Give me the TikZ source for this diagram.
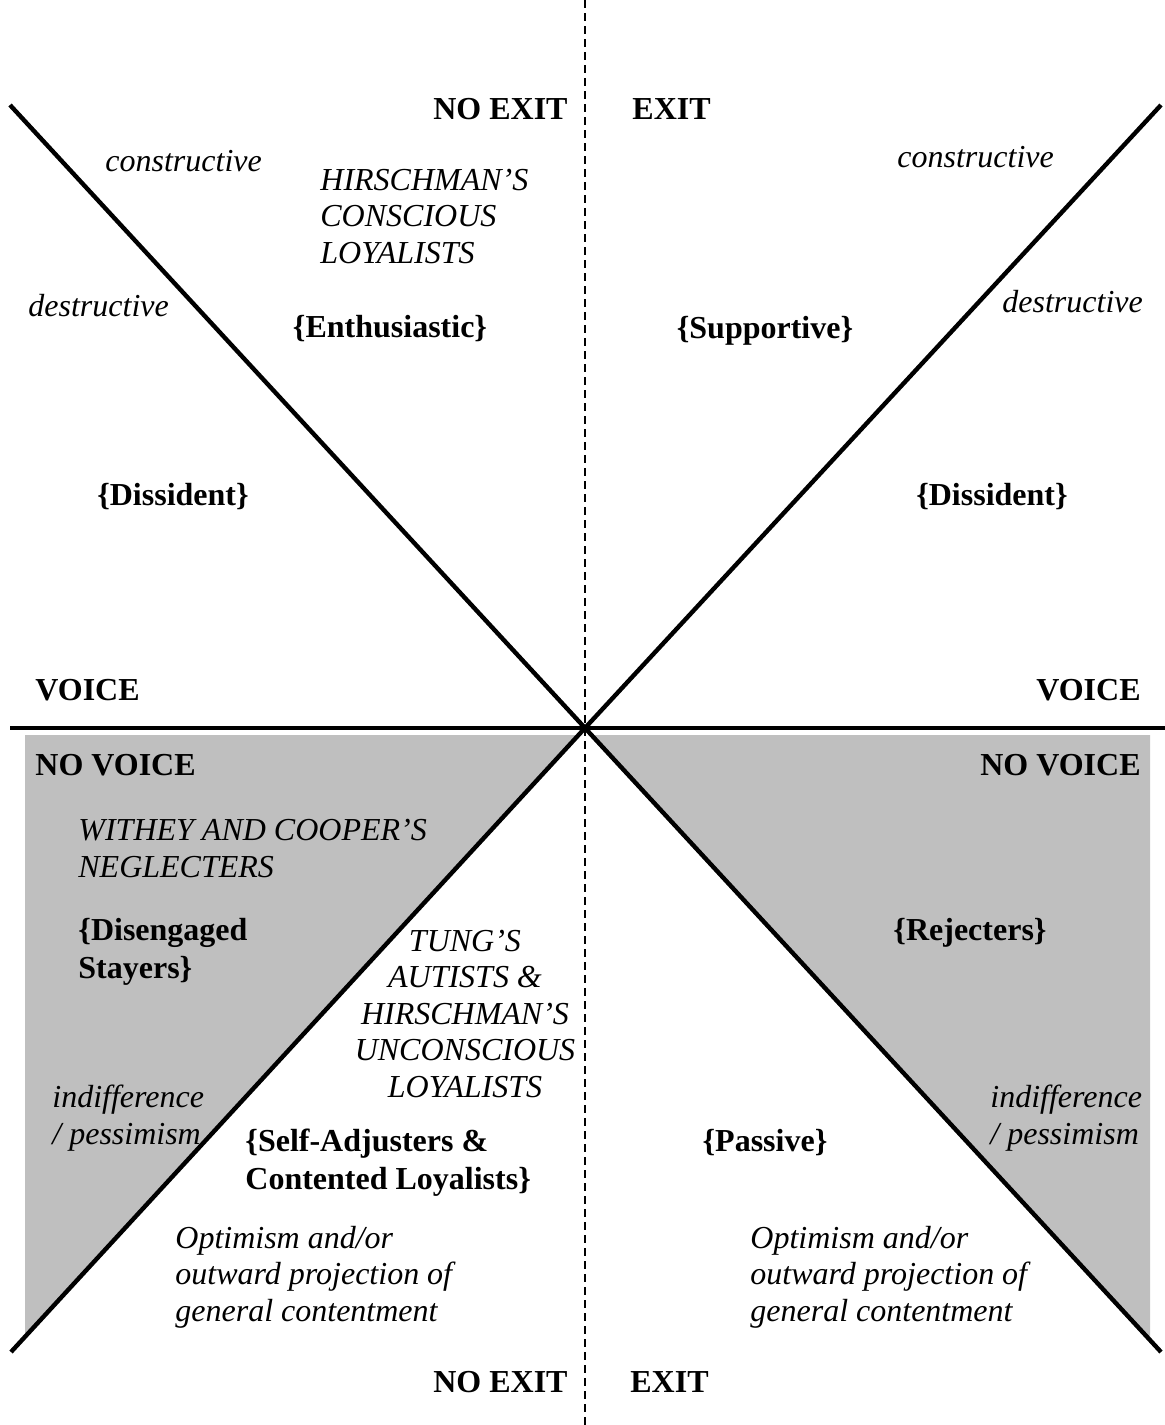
\documentclass[tikz,border=0pt]{standalone}
\usepackage{fontspec}
\setmainfont{Liberation Serif}
\begin{document}
\begin{tikzpicture}[x=0.5pt,y=-0.5pt,
  txt/.style={inner sep=0pt,font=\fontsize{16}{18.25}\selectfont},
  bt/.style={txt,font=\fontsize{16}{18.9}\selectfont\bfseries},
  it/.style={txt,font=\fontsize{16}{18.25}\selectfont\itshape},
  axis/.style={line width=2pt},
  diag/.style={line width=2.2pt},
  divider/.style={line width=1pt,dash pattern=on 4pt off 2.5pt},
  shade/.style={fill=black!25,draw=none}]
\useasboundingbox (0,0) rectangle (1165,1425);
% coordinates
\coordinate (C) at (585,728);
\coordinate (TL) at (10,105);
\coordinate (TR) at (1161,105);
\coordinate (BL) at (11,1352);
\coordinate (BR) at (1161,1352);
\coordinate (HL) at (10,728);
\coordinate (HR) at (1165,728);
\coordinate (VT) at (585,0);
\coordinate (VB) at (585,1425);
% shaded regions
\fill[shade] (25,735) -- (578,735) -- (25,1336) -- cycle;
\fill[shade] (592,735) -- (1150,735) -- (1150,1340) -- cycle;
% lines
\draw[divider] (VT) -- (VB);
\draw[axis] (HL) -- (HR);
\draw[diag] (TL) -- (C) -- (BR);
\draw[diag] (TR) -- (C) -- (BL);
% labels (multi-line nodes: base = last line's baseline)
\node[bt,anchor=base east] (noexitT) at (568,119) {NO EXIT};
\node[bt,anchor=base west] (exitT) at (632,119) {EXIT};
\node[bt,anchor=base east] (noexitB) at (568,1392) {NO EXIT};
\node[bt,anchor=base west] (exitB) at (630,1392) {EXIT};
\node[it,anchor=base west] (conL) at (105,171) {constructive};
\node[it,anchor=base west,align=left] (hirsch) at (320,263) {HIRSCHMAN’S\\CONSCIOUS\\LOYALISTS};
\node[it,anchor=base west] (desL) at (28,316) {destructive};
\node[bt,anchor=base] (enth) at (390,337) {\{Enthusiastic\}};
\node[bt,anchor=base] (dissL) at (173,505) {\{Dissident\}};
\node[bt,anchor=base west] (voiceL) at (35,700) {VOICE};
\node[it,anchor=base west] (conR) at (897,167) {constructive};
\node[it,anchor=base west] (desR) at (1002,312) {destructive};
\node[bt,anchor=base] (supp) at (765,338) {\{Supportive\}};
\node[bt,anchor=base] (dissR) at (992,505) {\{Dissident\}};
\node[bt,anchor=base east] (voiceR) at (1141,700) {VOICE};
\node[bt,anchor=base west] (novoiceL) at (35,775) {NO VOICE};
\node[bt,anchor=base east] (novoiceR) at (1141,775) {NO VOICE};
\node[it,anchor=base west,align=left] (withey) at (78,877) {WITHEY AND COOPER’S\\NEGLECTERS};
\node[bt,anchor=base west,align=left] (diseng) at (78,978) {\{Disengaged\\Stayers\}};
\node[it,anchor=base,align=center] (tung) at (465,1097) {TUNG’S\\AUTISTS \&\\HIRSCHMAN’S\\UNCONSCIOUS\\LOYALISTS};
\node[bt,anchor=base] (rej) at (970,940) {\{Rejecters\}};
\node[it,anchor=base west,align=left] (indL) at (52,1144) {indifference\\/ pessimism};
\node[it,anchor=base west,align=left] (indR) at (990,1144) {indifference\\/ pessimism};
\node[bt,anchor=base west,align=left] (self) at (245,1189) {\{Self-Adjusters \&\\Contented Loyalists\}};
\node[bt,anchor=base] (passive) at (765,1151) {\{Passive\}};
\node[it,anchor=base west,align=left] (optL) at (175,1321) {Optimism and/or\\outward projection of\\general contentment};
\node[it,anchor=base west,align=left] (optR) at (750,1321) {Optimism and/or\\outward projection of\\general contentment};
\end{tikzpicture}
\end{document}
